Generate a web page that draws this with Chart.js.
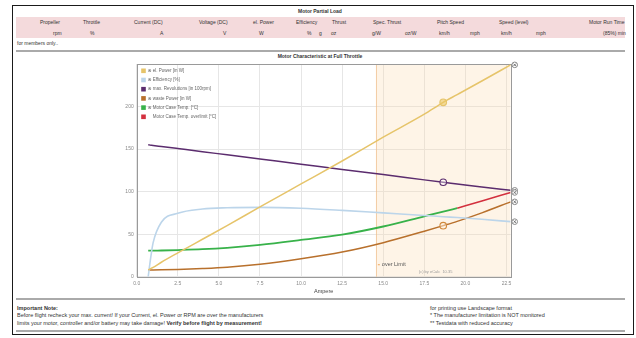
<!DOCTYPE html>
<html>
<head>
<meta charset="utf-8">
<script src="https://cdn.jsdelivr.net/npm/chart.js@4.4.1/dist/chart.umd.min.js"></script>
<style>
  html, body { margin: 0; padding: 0; background: #fff; }
  body { width: 636px; height: 338px; position: relative; overflow: hidden;
         font-family: "Liberation Sans", Arial, sans-serif; color: #333; }
  .frame { position: absolute; left: 12px; top: 5px; width: 620px; height: 328px; border: 1px solid #1a1a1a; }
  .band { position: absolute; left: 16px; top: 17px; width: 609px; height: 21px; background: #f4dadc; }
  .rule { position: absolute; left: 16px; width: 609px; height: 2px; background: #aaa; }
  .t { position: absolute; font-size: 5px; line-height: 6px; white-space: nowrap; }
  .n { font-size: 5.5px; }
  .b { font-weight: bold; }
  #chart { position: absolute; left: 0; top: 0; }
</style>
</head>
<body>
<div class="frame"></div>
<div class="t b" style="left:298px; top:8px;">Motor Partial Load</div>
<div class="band"></div>

<div class="t" style="left:40px; top:19px;">Propeller</div>
<div class="t" style="left:83px; top:19px;">Throttle</div>
<div class="t" style="left:134px; top:19px;">Current (DC)</div>
<div class="t" style="left:199px; top:19px;">Voltage (DC)</div>
<div class="t" style="left:253px; top:19px;">el. Power</div>
<div class="t" style="left:296px; top:19px;">Efficiency</div>
<div class="t" style="left:332px; top:19px;">Thrust</div>
<div class="t" style="left:373px; top:19px;">Spec. Thrust</div>
<div class="t" style="left:437px; top:19px;">Pitch Speed</div>
<div class="t" style="left:499px; top:19px;">Speed (level)</div>
<div class="t" style="left:589px; top:19px;">Motor Run Time</div>

<div class="t" style="left:53px; top:30px;">rpm</div>
<div class="t" style="left:90px; top:30px;">%</div>
<div class="t" style="left:160px; top:30px;">A</div>
<div class="t" style="left:223px; top:30px;">V</div>
<div class="t" style="left:259px; top:30px;">W</div>
<div class="t" style="left:307px; top:30px;">%</div>
<div class="t" style="left:319px; top:30px;">g</div>
<div class="t" style="left:331px; top:30px;">oz</div>
<div class="t" style="left:372px; top:30px;">g/W</div>
<div class="t" style="left:405px; top:30px;">oz/W</div>
<div class="t" style="left:439px; top:30px;">km/h</div>
<div class="t" style="left:470px; top:30px;">mph</div>
<div class="t" style="left:501px; top:30px;">km/h</div>
<div class="t" style="left:536px; top:30px;">mph</div>
<div class="t" style="left:603px; top:30px;">(85%) min</div>

<div class="t" style="left:17px; top:40px;">for members only..</div>
<div class="rule" style="top:50px;"></div>
<div class="t b" style="left:0; width:640px; text-align:center; top:53px;">Motor Characteristic at Full Throttle</div>

<div class="rule" style="top:298px;"></div>
<div class="t n b" style="left:17px; top:305px;">Important Note:</div>
<div class="t n" style="left:17px; top:312px;">Before flight recheck your max. current! If your Current, el. Power or RPM are over the manufacturers</div>
<div class="t n" style="left:17px; top:319.5px;">limits your motor, controller and/or battery may take damage! <b>Verify before flight by measurement!</b></div>
<div class="t n" style="left:430px; top:305px;">for printing use Landscape format</div>
<div class="t n" style="left:430px; top:312px;">* The manufacturer limitation is NOT monitored</div>
<div class="t n" style="left:430px; top:319.5px;">** Testdata with reduced accuracy</div>
<div class="rule" style="top:330px;"></div>

<canvas id="chart" width="636" height="338"></canvas>

<script>
// Motor characteristic at full throttle, plotted against battery current (A)
const current      = [0.7, 0.85, 1.0, 1.5, 2.5, 4, 5.5, 7.5, 10, 12.5, 15, 17.5, 18.65, 19.5, 21, 22.75];
const elPower      = [8, 9.5, 11, 17, 28, 44, 60, 82, 109, 136, 164, 191, 205, 214, 230, 249];
const efficiency   = [0, 22, 40, 64, 74.5, 79.5, 81, 81.5, 80.5, 78, 75, 72, 70.5, 69.5, 67.5, 64.7];
const revolutions  = [155, 154.6, 154.2, 153, 150.6, 147, 143.2, 138.3, 132.2, 126, 120, 113.8, 111, 109, 105.4, 101.5];
const wastePower   = [8, 8, 8, 8.1, 8.5, 9.5, 11, 14.5, 21, 29, 40, 53.5, 60, 65, 75, 88];
const caseTemp     = [30.6, 30.6, 30.7, 30.8, 31.3, 32.3, 34, 37.4, 43.2, 49.5, 59, 71, 76.5, 80.5, null, null];
const caseTempOver = [null, null, null, null, null, null, null, null, null, null, null, null, null, 80.5, 89, 99];

const xTicks = { min: 0, max: 22.75, step: 2.5 };
const yTicks = { min: 0, max: 250, step: 50, lastLabel: 200 };
const overLimitFrom = 14.55;     // A, start of the shaded region
const markedCurrent = 18.65;     // A, highlighted operating point
const endMarkerCurrent = 23.0;   // A, end-of-curve value markers

const labels = {
  elPower: 'el. Power [in W]',
  efficiency: 'Efficiency [%]',
  revolutions: 'max. Revolutions [in 100rpm]',
  wastePower: 'waste Power [in W]',
  caseTemp: 'Motor Case Temp. [°C]',
  caseTempOver: 'Motor Case Temp. overlimit [°C]'
};

const COLORS = {
  elPower: '#e6c46a',
  efficiency: '#bcd5ea',
  revolutions: '#5b2c6e',
  wastePower: '#b8702c',
  caseTemp: '#38b24a',
  caseTempOver: '#d3303e'
};

const pts = ys => current.map((x, i) => ({ x: x, y: ys[i] }));
const markIdx = current.indexOf(markedCurrent);
const markRadius = r => current.map((_, i) => (i === markIdx ? r : 0));

function series(key, ys, opts) {
  return Object.assign({
    label: labels[key],
    data: pts(ys),
    borderColor: COLORS[key],
    backgroundColor: COLORS[key],
    borderWidth: 1.5,
    pointRadius: 0,
    cubicInterpolationMode: 'monotone',
    spanGaps: false,
    inLegend: true,
    legendIcon: true
  }, opts || {});
}

const lastOf = arr => arr[arr.length - 1];
const endValues = [lastOf(elPower), lastOf(revolutions), lastOf(caseTempOver), lastOf(wastePower), lastOf(efficiency)];

const datasets = [
  series('elPower', elPower, {
    pointRadius: markRadius(3.3), pointBorderWidth: 1.2,
    pointBackgroundColor: 'rgba(236,200,100,0.6)', pointBorderColor: COLORS.elPower
  }),
  series('efficiency', efficiency, { borderWidth: 1.6 }),
  series('revolutions', revolutions, {
    pointRadius: markRadius(3.3), pointBorderWidth: 1.1,
    pointBackgroundColor: 'rgba(255,255,255,0.4)', pointBorderColor: COLORS.revolutions
  }),
  series('wastePower', wastePower, {
    pointRadius: markRadius(3.3), pointBorderWidth: 1.1,
    pointBackgroundColor: 'rgba(255,240,220,0.5)', pointBorderColor: '#d28a3c'
  }),
  series('caseTemp', caseTemp, { borderWidth: 1.8 }),
  series('caseTempOver', caseTempOver, { legendIcon: false })
];

// shaded "over Limit" region plus plot frame, drawn under the curves
const overLimitBand = {
  id: 'overLimitBand',
  beforeDatasetsDraw(chart) {
    const { ctx, chartArea: a, scales: { x } } = chart;
    const x0 = x.getPixelForValue(overLimitFrom);
    ctx.save();
    ctx.fillStyle = 'rgba(252,214,170,0.28)';
    ctx.fillRect(x0, a.top, a.right - x0, a.bottom - a.top);
    ctx.strokeStyle = 'rgba(238,190,140,0.7)';
    ctx.lineWidth = 1;
    ctx.beginPath();
    ctx.moveTo(Math.round(x0) + 0.5, a.top);
    ctx.lineTo(Math.round(x0) + 0.5, a.bottom);
    ctx.stroke();
    ctx.strokeStyle = '#9a9a9a';
    ctx.strokeRect(Math.round(a.left) + 0.5, Math.round(a.top) + 0.5,
                   Math.round(a.right - a.left), Math.round(a.bottom - a.top));
    // region caption
    ctx.strokeStyle = '#f0b070';
    ctx.lineWidth = 1.2;
    ctx.beginPath();
    ctx.moveTo(x0 + 2, a.bottom - 12);
    ctx.lineTo(x0 + 4, a.bottom - 12);
    ctx.stroke();
    ctx.fillStyle = '#555';
    ctx.font = '5.5px "Liberation Sans", Arial, sans-serif';
    ctx.textBaseline = 'middle';
    ctx.fillText('over Limit', x0 + 6, a.bottom - 12);
    ctx.fillStyle = '#9a9a9a';
    ctx.font = '4px "Liberation Sans", Arial, sans-serif';
    ctx.fillText('(c) by eCalc  10.35', x0 + 43, a.bottom - 5);
    ctx.restore();
  }
};

// value markers just right of the curve ends, placed through the chart scales
const endMarkers = {
  id: 'endMarkers',
  afterDatasetsDraw(chart) {
    const { ctx, scales: { x, y } } = chart;
    const px = x.getPixelForValue(endMarkerCurrent);
    ctx.save();
    endValues.forEach(v => {
      const py = y.getPixelForValue(v);
      ctx.beginPath();
      ctx.arc(px, py, 2.8, 0, Math.PI * 2);
      ctx.fillStyle = 'rgba(255,255,255,0.9)';
      ctx.fill();
      ctx.lineWidth = 1;
      ctx.strokeStyle = '#888';
      ctx.stroke();
      ctx.beginPath();
      ctx.moveTo(px - 1.2, py - 1.2); ctx.lineTo(px + 1.2, py + 1.2);
      ctx.moveTo(px - 1.2, py + 1.2); ctx.lineTo(px + 1.2, py - 1.2);
      ctx.strokeStyle = '#707070';
      ctx.stroke();
    });
    ctx.restore();
  }
};

// legend placed inside the plot, top-left
const insideLegend = {
  id: 'insideLegend',
  afterDatasetsDraw(chart) {
    const { ctx, chartArea: a } = chart;
    ctx.save();
    ctx.textBaseline = 'middle';
    let y = a.top + 6.8;
    chart.data.datasets.forEach(ds => {
      if (!ds.inLegend) return;
      ctx.fillStyle = ds.borderColor;
      ctx.fillRect(a.left + 4.5, y - 2.3, 4.6, 4.6);
      ctx.fillStyle = '#666';
      if (ds.legendIcon) {
        ctx.font = '4.5px "DejaVu Sans", sans-serif';
        ctx.fillText('\u2297', a.left + 11, y);
      }
      ctx.font = '4.5px "Liberation Sans", Arial, sans-serif';
      ctx.fillText(ds.label, a.left + 16, y);
      y += 9.2;
    });
    ctx.restore();
  }
};

new Chart(document.getElementById('chart'), {
  type: 'line',
  data: { datasets: datasets },
  options: {
    responsive: false,
    animation: false,
    devicePixelRatio: 1,
    layout: { padding: { left: 116.7, right: 125.4, top: 64, bottom: 42.8 } },
    plugins: {
      legend: { display: false },
      tooltip: { enabled: false },
      title: { display: false }
    },
    scales: {
      x: {
        type: 'linear',
        min: xTicks.min, max: xTicks.max,
        grid: { color: '#e6e6e6', drawTicks: false },
        border: { display: false },
        ticks: {
          stepSize: xTicks.step, includeBounds: false, autoSkip: false, maxRotation: 0,
          padding: 3.5, color: '#888',
          font: { size: 5, family: '"Liberation Sans", Arial, sans-serif' },
          callback: v => Number(v).toFixed(1)
        },
        title: {
          display: true, text: 'Ampere', color: '#444',
          font: { size: 5.5, family: '"Liberation Sans", Arial, sans-serif' },
          padding: { top: 0, bottom: 0 }
        },
        afterFit: s => { s.height = 18.5; }
      },
      y: {
        min: yTicks.min, max: yTicks.max,
        grid: { color: '#e6e6e6', drawTicks: false },
        border: { display: false },
        ticks: {
          stepSize: yTicks.step, padding: 3, color: '#888',
          font: { size: 5, family: '"Liberation Sans", Arial, sans-serif' },
          callback: v => (v <= yTicks.lastLabel ? v : '')
        },
        afterFit: s => { s.width = 20; }
      }
    }
  },
  plugins: [overLimitBand, endMarkers, insideLegend]
});
</script>
</body>
</html>
